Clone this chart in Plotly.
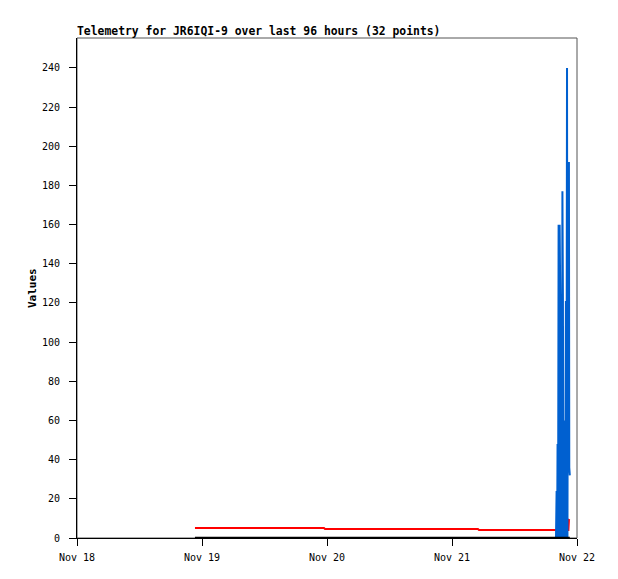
import plotly.graph_objects as go

times = [
    "2023-11-18 22:39", "2023-11-19 23:25", "2023-11-19 23:37", "2023-11-21 04:59",
    "2023-11-21 05:11", "2023-11-21 19:58", "2023-11-21 20:05", "2023-11-21 20:11",
    "2023-11-21 20:16", "2023-11-21 20:22", "2023-11-21 20:28", "2023-11-21 20:34",
    "2023-11-21 20:40", "2023-11-21 20:48", "2023-11-21 20:53", "2023-11-21 20:59",
    "2023-11-21 21:05", "2023-11-21 21:12", "2023-11-21 21:18", "2023-11-21 21:22",
    "2023-11-21 21:28", "2023-11-21 21:31", "2023-11-21 21:44", "2023-11-21 21:52",
    "2023-11-21 21:58", "2023-11-21 22:05", "2023-11-21 22:10", "2023-11-21 22:15",
    "2023-11-21 22:21", "2023-11-21 22:27", "2023-11-21 22:31", "2023-11-21 22:37",
]
red_values = [5.1, 5.1, 4.6, 4.6, 4.1, 4.1, 4.1, 4.1,
              4.1, 4.1, 4.1, 4.1, 4.1, 4.1, 4.1, 4.1,
              4.1, 4.1, 4.1, 4.1, 4.1, 4.1, 4.1, 4.1,
              4.1, 4.1, 4.1, 4.1, 4.1, 9.2, 9.0, 9.0]
blue_values = [0, 0, 0, 0, 0, 0, 24, 0,
               48, 0, 160, 0, 160, 118, 0, 118,
               0, 177, 121, 0, 60, 0, 0, 121,
               0, 240, 0, 120, 120, 192, 36, 32]
black_values = [0] * len(times)

x_ticks = ["2023-11-18", "2023-11-19", "2023-11-20", "2023-11-21", "2023-11-22"]
x_tick_labels = ["Nov 18", "Nov 19", "Nov 20", "Nov 21", "Nov 22"]
y_ticks = list(range(0, 241, 20))

mono = "DejaVu Sans Mono"

fig = go.Figure()
fig.add_trace(go.Scatter(x=times, y=red_values, mode="lines",
                         line=dict(color="#ff0000", width=2), showlegend=False))
fig.add_trace(go.Scatter(x=times, y=blue_values, mode="lines",
                         line=dict(color="#0060d0", width=2), showlegend=False))
fig.add_trace(go.Scatter(x=times, y=black_values, mode="lines",
                         line=dict(color="#000000", width=2.5), showlegend=False))

fig.update_layout(
    width=618, height=579,
    margin=dict(l=69, r=49, t=30, b=49),
    plot_bgcolor="white", paper_bgcolor="white",
    font=dict(family=mono, size=10, color="black"),
    title=dict(text="<b>Telemetry for JR6IQI-9 over last 96 hours (32 points)</b>",
               x=69 / 618, xanchor="left", xref="container",
               y=1 - 23 / 579, yanchor="middle", yref="container",
               font=dict(family=mono, size=11.4, color="black")),
    xaxis=dict(type="date", range=["2023-11-18", "2023-11-22"],
               tickvals=x_ticks, ticktext=x_tick_labels,
               showgrid=False, zeroline=False, showline=True, linecolor="black",
               ticks="outside", ticklen=7, tickcolor="black", ticklabelstandoff=3,
               tickfont=dict(family=mono, size=10, color="black")),
    yaxis=dict(range=[0, 255.3], tickvals=y_ticks,
               showgrid=False, zeroline=False, showline=True, linecolor="black",
               ticks="outside", ticklen=7, tickcolor="black", ticklabelstandoff=7,
               tickfont=dict(family=mono, size=10, color="black")),
    shapes=[dict(type="rect", xref="paper", yref="paper", x0=0, x1=1, y0=0, y1=1,
                 line=dict(color="#555555", width=1), layer="below")],
    annotations=[dict(text="<b>Values</b>", textangle=-90, xref="paper", yref="paper",
                      x=(32 - 77) / 500, y=0.5, xanchor="center", yanchor="middle",
                      showarrow=False, font=dict(family=mono, size=11, color="black"))],
)

fig.write_html("out.html")
